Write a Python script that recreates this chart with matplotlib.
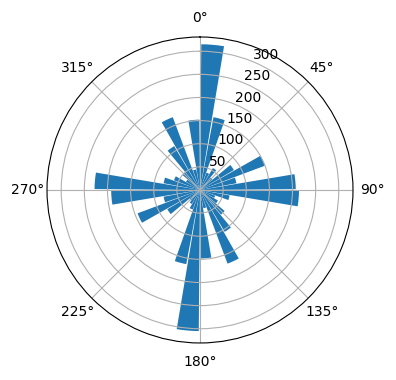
import numpy as np
import matplotlib
matplotlib.use("Agg")
import matplotlib.pyplot as plt

# direction bins (degrees, clockwise from north), 10 degree wide
bin_start = np.arange(0, 360, 10)
counts = [315, 160, 40, 55, 35, 85, 150, 80, 207,
          214, 65, 35, 45, 70, 105, 170, 40, 148,
          305, 163, 45, 35, 30, 82, 144, 80, 192,
          228, 80, 60, 35, 50, 110, 168, 45, 152]

fig = plt.figure(figsize=(3.96, 3.8), dpi=100)
ax = fig.add_axes([0.1187, 0.0974, 0.7727, 0.8053], projection='polar')
ax.set_theta_zero_location('N')
ax.set_theta_direction(-1)

theta = np.deg2rad(bin_start + 5)
ax.bar(theta, counts, width=np.deg2rad(9))

fig.savefig('out.png', dpi=100)
